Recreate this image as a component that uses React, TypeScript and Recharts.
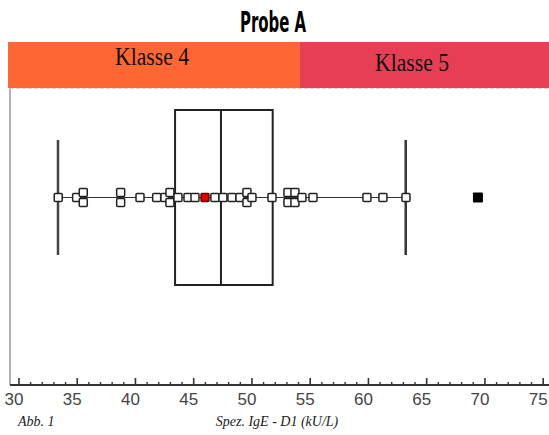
import {
  ComposedChart,
  ReferenceArea,
  ReferenceLine,
  Scatter,
  XAxis,
  YAxis,
} from 'recharts'

const values = [
  33.37, 34.95, 35.52, 35.52, 38.73, 38.73, 40.39, 41.82, 42.53, 42.96, 42.96, 43.65, 44.51,
  45.11, 46.82, 47.51, 48.28, 48.97, 49.57, 49.57, 50.0, 51.72, 53.09, 53.09, 53.69, 53.69,
  54.29, 55.24, 59.87, 61.24, 63.22,
]
// Stapelung übereinanderliegender Punkte (-1 oben, 0 Mitte, 1 unten)
const lanes = [
  0, 0, -1, 1, -1, 1, 0, 0, 0, -1, 1, 0, 0,
  0, 0, 0, 0, 0, -1, 1, 0, 0, -1, 1, -1, 1,
  0, 0, 0, 0, 0,
]
const highlighted = [45.97]
const outliers = [69.4]

// Boxplot-Kennwerte: Whisker min, Q1, Median, Q3, Whisker max
const whiskerMin = 33.35
const q1 = 43.4
const median = 47.34
const q3 = 51.78
const whiskerMax = 63.2

const xDomain = [29.23, 75.5]
const majorTicks = [30, 35, 40, 45, 50, 55, 60, 65, 70, 75]
const minorTicks = Array.from({ length: 46 }, (_, i) => 30 + i)

const classLabels = ['Klasse 4', 'Klasse 5']

const BOX_HALF = 8.75
const WHISKER_HALF = 5.75
const LANE_STEP = 0.5

const points = values.map((x, i) => ({ x, y: -lanes[i] * LANE_STEP }))
const redPoints = highlighted.map((x) => ({ x, y: 0 }))
const outlierPoints = outliers.map((x) => ({ x, y: 0 }))

function OpenSquare(props: any) {
  const { cx, cy } = props
  return (
    <rect x={cx - 4} y={cy - 4} width={8} height={8} rx={1} fill="#fff" stroke="#222" strokeWidth={1.5} />
  )
}

function RedSquare(props: any) {
  const { cx, cy } = props
  return (
    <rect x={cx - 4} y={cy - 4} width={8} height={8} rx={1} fill="#d80000" stroke="#6a0000" strokeWidth={1.4} />
  )
}

function FilledSquare(props: any) {
  const { cx, cy } = props
  return <rect x={cx - 5} y={cy - 5} width={10} height={10} rx={1} fill="#000" />
}

function AxisTick(props: any) {
  const { x, y, payload } = props
  const v = payload.value as number
  const major = majorTicks.includes(v)
  return (
    <g>
      <line x1={x} x2={x} y1={y} y2={y - (major ? 7 : 3)} stroke="#333" strokeWidth={major ? 1.6 : 1.4} />
      {major && (
        <text
          x={x - 5}
          y={y + 20}
          textAnchor="middle"
          fontSize={17}
          fill="#444"
          fontFamily="'Liberation Sans', Arial, sans-serif"
        >
          {v}
        </text>
      )}
    </g>
  )
}

export default function App() {
  return (
    <div style={{ position: 'absolute', left: 0, top: 0, width: 549, height: 435, background: '#fff' }}>
      <ComposedChart
        width={549}
        height={435}
        margin={{ top: 88, right: 0, left: 10, bottom: 20 }}
        style={{ position: 'absolute', left: 0, top: 0 }}
      >
        <XAxis
          type="number"
          dataKey="x"
          domain={xDomain}
          allowDataOverflow
          ticks={minorTicks}
          interval={0}
          height={30}
          tickSize={0}
          tickMargin={0}
          tickLine={false}
          axisLine={{ stroke: '#333', strokeWidth: 2 }}
          tick={<AxisTick />}
        />
        <YAxis type="number" dataKey="y" domain={[-18.75, 10.95]} allowDataOverflow hide />
        <ReferenceLine x={xDomain[0]} stroke="#9a9a9a" strokeWidth={1.5} />
        <ReferenceLine y={10.95} stroke="#d4d4d4" strokeDasharray="4 2" strokeWidth={2} />
        <ReferenceArea
          x1={q1}
          x2={q3}
          y1={-BOX_HALF}
          y2={BOX_HALF}
          fill="#fff"
          fillOpacity={0}
          stroke="#222"
          strokeWidth={2}
        />
        <ReferenceLine
          segment={[
            { x: median, y: -BOX_HALF },
            { x: median, y: BOX_HALF },
          ]}
          stroke="#222"
          strokeWidth={2}
        />
        <ReferenceLine
          segment={[
            { x: whiskerMin, y: -WHISKER_HALF },
            { x: whiskerMin, y: WHISKER_HALF },
          ]}
          stroke="#444"
          strokeWidth={2.5}
        />
        <ReferenceLine
          segment={[
            { x: whiskerMax, y: -WHISKER_HALF },
            { x: whiskerMax, y: WHISKER_HALF },
          ]}
          stroke="#333"
          strokeWidth={2.5}
        />
        <ReferenceLine
          segment={[
            { x: whiskerMin, y: 0 },
            { x: whiskerMax, y: 0 },
          ]}
          stroke="#333"
          strokeWidth={1.2}
        />
        <Scatter data={points} shape={<OpenSquare />} isAnimationActive={false} />
        <Scatter data={redPoints} shape={<RedSquare />} isAnimationActive={false} />
        <Scatter data={outlierPoints} shape={<FilledSquare />} isAnimationActive={false} />
      </ComposedChart>
      <svg
        width={549}
        height={435}
        style={{ position: 'absolute', left: 0, top: 0, pointerEvents: 'none' }}
      >
        <text
          x={273}
          y={32}
          textAnchor="middle"
          fontFamily="'DejaVu Sans Condensed', 'DejaVu Sans', sans-serif"
          fontWeight="bold"
          fontSize={28}
          textLength={66}
          lengthAdjust="spacingAndGlyphs"
        >
          Probe A
        </text>
        <rect x={8} y={42} width={292} height={46} fill="#fe6633" />
        <rect x={300} y={42} width={249} height={46} fill="#e63e55" />
        <text
          x={152}
          y={65}
          textAnchor="middle"
          fontFamily="'Liberation Serif', serif"
          fontSize={25}
          textLength={74}
          lengthAdjust="spacingAndGlyphs"
          fill="#111"
        >
          {classLabels[0]}
        </text>
        <text
          x={412}
          y={71}
          textAnchor="middle"
          fontFamily="'Liberation Serif', serif"
          fontSize={25}
          textLength={74}
          lengthAdjust="spacingAndGlyphs"
          fill="#111"
        >
          {classLabels[1]}
        </text>
        <text x={18} y={426} fontFamily="'Liberation Serif', serif" fontStyle="italic" fontSize={14} fill="#222">
          Abb. 1
        </text>
        <text
          x={277}
          y={426}
          textAnchor="middle"
          fontFamily="'Liberation Serif', serif"
          fontStyle="italic"
          fontSize={14}
          fill="#222"
        >
          Spez. IgE - D1 (kU/L)
        </text>
      </svg>
    </div>
  )
}
